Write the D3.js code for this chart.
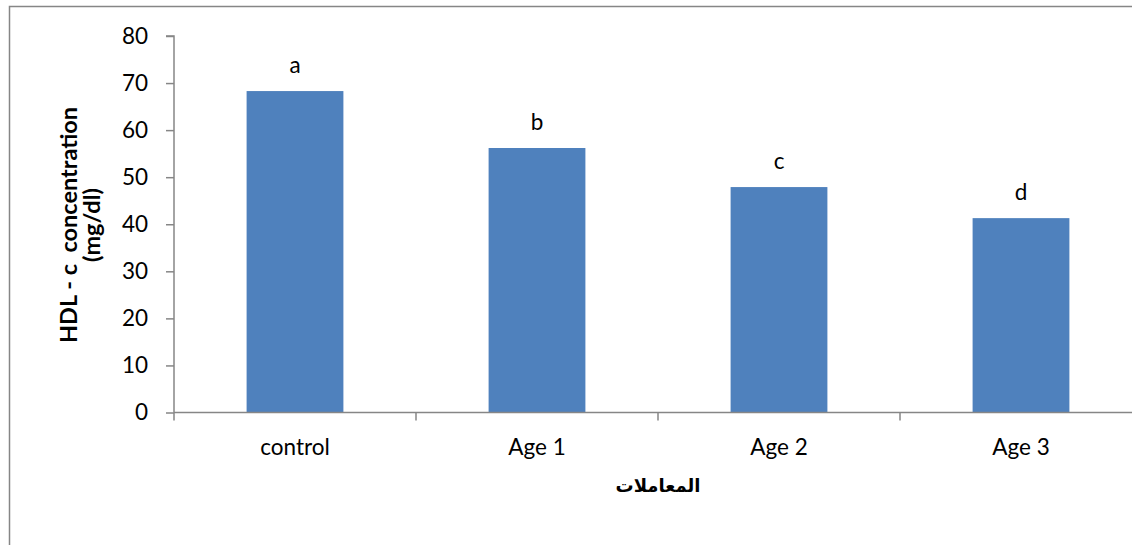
<!DOCTYPE html>
<html><head><meta charset="utf-8">
<script src="https://cdn.jsdelivr.net/npm/d3@7"></script>
<style>body{margin:0;background:#fff}svg{display:block}</style>
</head><body>
<svg id="c" width="1132" height="545"></svg>
<script>
const categories = ["control", "Age 1", "Age 2", "Age 3"];
const values = [68.3, 56.2, 47.9, 41.3];
const letters = ["a", "b", "c", "d"];
const yTicks = [0, 10, 20, 30, 40, 50, 60, 70, 80];
const yTitle = ["HDL - c  concentration", "(mg/dl)"];
const xTitle = "المعاملات";

const svg = d3.select("#c");
const font = "Lato, 'Open Sans', sans-serif";
const gray = "#868686";

svg.append("rect").attr("x", 9.5).attr("y", 6.5).attr("width", 1140).attr("height", 600)
  .attr("fill", "none").attr("stroke", gray).attr("stroke-width", 1.5);

const x = d3.scaleBand().domain(categories).range([174, 1142]).padding(0);
const y = d3.scaleLinear().domain([0, 80]).range([412.5, 36]);

const yAxis = svg.append("g").attr("transform", "translate(174,0)")
  .call(d3.axisLeft(y).tickValues(yTicks).tickSize(8).tickPadding(18));
yAxis.select(".domain").attr("stroke", gray).attr("stroke-width", 1.5).attr("d", `M-8,${y(80)}H0V${y(0)}`);
yAxis.selectAll(".tick line").attr("stroke", gray).attr("stroke-width", 1.5);
yAxis.selectAll(".tick text").attr("font-family", font).attr("font-size", 22.5).attr("fill", "#000");

const bw = x.bandwidth() * 0.4;
svg.append("g").selectAll("rect").data(categories).join("rect")
  .attr("x", (d) => x(d) + (x.bandwidth() - bw) / 2)
  .attr("y", (d, i) => y(values[i]))
  .attr("width", bw)
  .attr("height", (d, i) => y(0) - y(values[i]))
  .attr("fill", "#4f81bd");

svg.append("g").selectAll("text").data(categories).join("text")
  .attr("x", (d) => x(d) + x.bandwidth() / 2)
  .attr("y", (d, i) => y(values[i]) - 18)
  .attr("text-anchor", "middle").attr("font-family", font).attr("font-size", 22.5)
  .text((d, i) => letters[i]);

const xAxis = svg.append("g").attr("transform", `translate(0,${y(0)})`);
xAxis.append("line").attr("x1", 174).attr("x2", 1142).attr("stroke", gray).attr("stroke-width", 1.5);
const bounds = categories.map((d) => x(d)).concat([x.range()[1]]);
xAxis.selectAll("line.t").data(bounds).join("line").attr("class", "t")
  .attr("x1", (d) => d).attr("x2", (d) => d).attr("y1", 0).attr("y2", 8)
  .attr("stroke", gray).attr("stroke-width", 1.5);
xAxis.selectAll("text").data(categories).join("text")
  .attr("x", (d) => x(d) + x.bandwidth() / 2).attr("y", 42)
  .attr("text-anchor", "middle").attr("font-family", font).attr("font-size", 22.5)
  .text((d) => d);

svg.append("text").attr("x", 658).attr("y", 492).attr("text-anchor", "middle")
  .attr("font-family", "'DejaVu Sans', 'Noto Sans', sans-serif").attr("font-weight", "bold").attr("font-size", 18)
  .attr("direction", "rtl").text(xTitle);

const yt = svg.append("text").attr("transform", "translate(0,225) rotate(-90)")
  .attr("text-anchor", "middle").attr("font-family", font).attr("font-weight", "bold").attr("font-size", 23.5)
  .style("white-space", "pre");
yt.append("tspan").attr("x", 0).attr("y", 77).text(yTitle[0]);
yt.append("tspan").attr("x", 0).attr("y", 100).text(yTitle[1]);
</script>
</body></html>
